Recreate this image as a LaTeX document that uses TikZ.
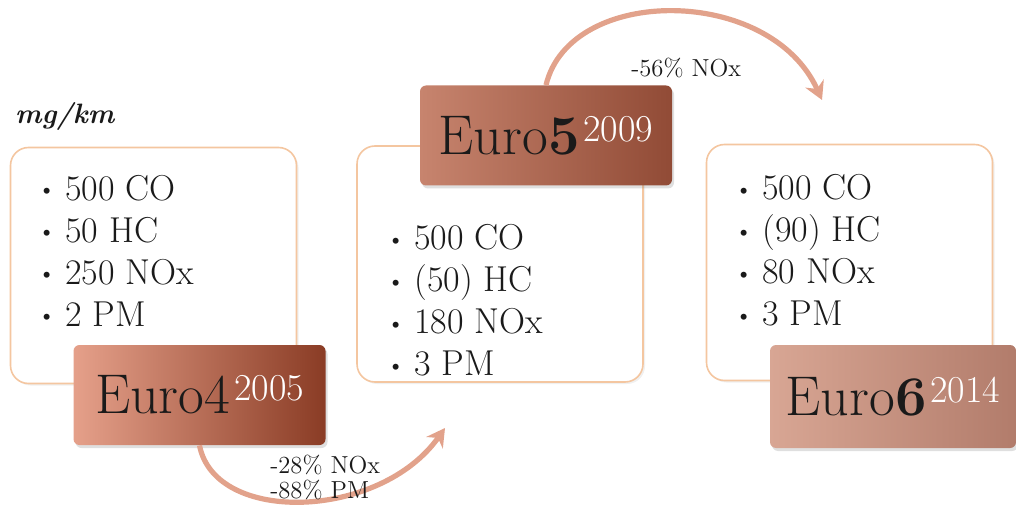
\documentclass[tikz,border=0pt]{standalone}
\usepackage{tikz}
\usetikzlibrary{arrows.meta,positioning,shadows}

\definecolor{peach}{HTML}{F4C6A0}
\definecolor{arrowc}{HTML}{E2A28B}
\definecolor{inkc}{HTML}{1A1A1A}
\definecolor{e4l}{HTML}{E5A08A}
\definecolor{e4r}{HTML}{8A3C25}
\definecolor{e5l}{HTML}{C7846E}
\definecolor{e5m}{HTML}{E3A894}
\definecolor{e5r}{HTML}{914B36}
\definecolor{e6l}{HTML}{D8A694}
\definecolor{e6r}{HTML}{B27C6B}

\newcommand{\bitem}[1]{\makebox[13.5pt][l]{\raisebox{0.2ex}{\fontsize{11}{11}\selectfont\textbullet}}#1}
\newcommand{\yr}[1]{\hspace{2pt}\raisebox{6.5pt}{\fontsize{19}{19}\selectfont\color{white}#1}}

\begin{document}
\begin{tikzpicture}[
    x=0.5pt,y=-0.5pt,
    listbox/.style={rectangle,rounded corners=9pt,draw=peach,line width=0.8pt,fill=white,
        minimum width=143pt,minimum height=118pt,
        drop shadow={opacity=0.12,shadow xshift=1pt,shadow yshift=-1pt}},
    items/.style={align=left,inner sep=0pt,text=inkc,font=\fontsize{18}{21}\selectfont},
    euro/.style={rectangle,rounded corners=3pt,inner sep=0pt,minimum width=126pt,minimum height=50pt,
        text=inkc,font=\fontsize{28}{30}\selectfont,
        drop shadow={opacity=0.25,shadow xshift=1pt,shadow yshift=-1.5pt}},
    cut/.style={align=left,inner sep=0pt,text=inkc,font=\fontsize{12.3}{12.5}\selectfont},
    curvearrow/.style={line width=2.6pt,draw=arrowc,-{Stealth[length=9pt,width=10pt]}}
]
\useasboundingbox (0,0) rectangle (1016,513);

% Boxes
\node[listbox] (b4) at (153.5,265.5) {};
\node[listbox] (b5) at (500,264) {};
\node[listbox] (b6) at (849.5,262.5) {};

% Limits
\node[items,anchor=west] (l4) at (38,250.5) {\bitem{500 CO}\\\bitem{50 HC}\\\bitem{250 NOx}\\\bitem{2 PM}};
\node[items,anchor=west] (l5) at (387,300.5) {\bitem{500 CO}\\\bitem{(50) HC}\\\bitem{180 NOx}\\\bitem{3 PM}};
\node[items,anchor=west] (l6) at (735,250.5) {\bitem{500 CO}\\\bitem{(90) HC}\\\bitem{80 NOx}\\\bitem{3 PM}};

\node[inner sep=0pt,text=inkc,font=\fontsize{14}{14}\selectfont\bfseries\itshape,
    above right=8pt and 2.5pt of b4.north west] (unit) {mg/km};

% Euro labels
\node[euro,left color=e4l,right color=e4r] (e4) at (199.5,395) {Euro4\yr{2005}};
\node[euro,left color=e5l,middle color=e5m,right color=e5r] (e5) at (546,135.5) {Euro\textbf{5}\yr{2009}};
\node[euro,left color=e6l,right color=e6r,minimum width=123pt,minimum height=51.5pt] (e6) at (893,396.5) {Euro\textbf{6}\yr{2014}};

% Arrows
\coordinate (t5) at (445,428);
\coordinate (t6) at (822,100);
\draw[curvearrow] (e4.south) .. controls (215,525) and (380,520) .. (t5);
\draw[curvearrow] (e5.north) .. controls (570,-15) and (770,-15) .. (t6);

\node[cut,anchor=west] (c45) at (270,477.5) {-28\% NOx\\-88\% PM};
\node[cut,anchor=west] (c56) at (631,68) {-56\% NOx};

\end{tikzpicture}
\end{document}
